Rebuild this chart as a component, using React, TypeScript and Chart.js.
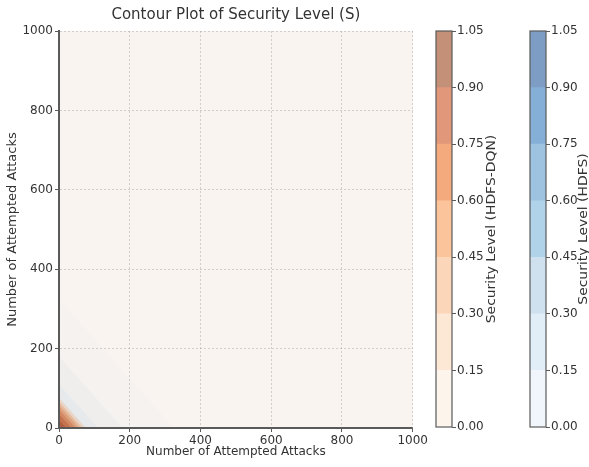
import React, { useEffect, useRef } from "react";
import { Chart, registerables } from "chart.js";

Chart.register(...registerables);

// Axis ticks shared by both attack axes
const AXIS_TICKS = [0, 200, 400, 600, 800, 1000];
// Contour levels of the security score
const LEVELS = [0, 0.15, 0.3, 0.45, 0.6, 0.75, 0.9, 1.05];
// Total attempts (x + y) at which each model's score falls to LEVELS[1..6]
const HDFS_BOUNDARIES = [325, 180, 110, 76, 50, 25];
const DQN_BOUNDARIES = [76, 66, 57, 47, 35, 20];
// Colour-bar fills for each band, lowest level first
const HDFS_COLORS = ["#f0f6fb", "#e1edf7", "#cfe1ef", "#b0d3e9", "#9dc3e1", "#86afd8", "#7e9dc4"];
const DQN_COLORS = ["#fdf4ec", "#fde8d6", "#fcd6b8", "#fcc49a", "#f5aa7e", "#e0977a", "#c49078"];
// HDFS-DQN bands as they appear laid over the HDFS surface
const DQN_OVERLAY = ["rgba(253,244,236,0.7)", "#e9d6c8", "#e6bc9e", "#dea27f", "#d38a64", "#c47250", "#b25d40"];

const TITLE = "Contour Plot of Security Level (S)";
const X_LABEL = "Number of Attempted Attacks";
const Y_LABEL = "Number of Attempted Attacks";
const DQN_LABEL = "Security Level (HDFS-DQN)";
const HDFS_LABEL = "Security Level (HDFS)";

const FAMILY = "'DejaVu Sans', sans-serif";
const TEXT = "#333333";
const EDGE = "#5a5a5a";

// Each band of a contour x + y < d is the triangle under the line from (0, d) to (d, 0)
function bandDatasets() {
  const full = 2 * AXIS_TICKS[AXIS_TICKS.length - 1];
  const layers: { d: number; color: string }[] = [];
  layers.push({ d: full, color: HDFS_COLORS[0] });
  HDFS_BOUNDARIES.forEach((d, i) => layers.push({ d, color: HDFS_COLORS[i + 1] }));
  layers.push({ d: full, color: DQN_OVERLAY[0] });
  DQN_BOUNDARIES.forEach((d, i) => layers.push({ d, color: DQN_OVERLAY[i + 1] }));
  return layers.map((l, i, arr) => ({
    data: [
      { x: 0, y: l.d },
      { x: l.d, y: 0 },
    ],
    fill: "origin",
    backgroundColor: l.color,
    borderWidth: 0,
    pointRadius: 0,
    tension: 0,
    order: arr.length - i,
  }));
}

function axisOptions(title: string, isX: boolean) {
  return {
    type: "linear",
    min: AXIS_TICKS[0],
    max: AXIS_TICKS[AXIS_TICKS.length - 1],
    afterBuildTicks: (s: any) => {
      s.ticks = AXIS_TICKS.map((v) => ({ value: v }));
    },
    afterFit: (s: any) => {
      if (isX) s.height = 39;
      else s.width = 59;
    },
    ticks: {
      font: { family: FAMILY, size: 12 },
      color: TEXT,
      padding: 2,
      maxRotation: 0,
      autoSkip: false,
      callback: (v: any) => String(v),
    },
    grid: {
      z: 1,
      color: "rgba(150,150,150,0.5)",
      lineWidth: 0.8,
      drawTicks: true,
      tickLength: 4,
      tickColor: EDGE,
      tickWidth: 1,
      tickBorderDash: [],
    },
    border: { z: 2, display: true, color: EDGE, width: 2, dash: [2, 2] },
    title: {
      display: true,
      text: title,
      font: { family: FAMILY, size: isX ? 12 : 13 },
      color: TEXT,
      padding: isX ? { top: 0, bottom: 8 } : { top: 5, bottom: 0 },
    },
  };
}

const colorbarDecor = {
  id: "colorbarDecor",
  afterDatasetsDraw(chart: any) {
    const { ctx, chartArea: a } = chart;
    ctx.save();
    ctx.strokeStyle = EDGE;
    ctx.lineWidth = 1.2;
    ctx.strokeRect(a.left, a.top, a.right - a.left, a.bottom - a.top);
    ctx.restore();
  },
  afterDraw(chart: any, _args: any, opts: any) {
    const { ctx, chartArea: a } = chart;
    ctx.save();
    ctx.translate(opts.x, (a.top + a.bottom) / 2);
    ctx.rotate(-Math.PI / 2);
    ctx.scale(opts.stretch, 1);
    ctx.font = `${opts.size}px ${FAMILY}`;
    ctx.fillStyle = TEXT;
    ctx.textAlign = "center";
    ctx.textBaseline = "middle";
    ctx.fillText(opts.text, 0, 0);
    ctx.restore();
  },
};

function colorbarConfig(colors: string[], label: string, width: number, labelX: number): any {
  return {
    type: "bar",
    data: {
      labels: [""],
      datasets: LEVELS.slice(1).map((v, i) => ({
        data: [v - LEVELS[i]],
        backgroundColor: colors[i],
        borderWidth: 0,
        barPercentage: 1,
        categoryPercentage: 1,
      })),
    },
    plugins: [colorbarDecor],
    options: {
      animation: false,
      responsive: false,
      maintainAspectRatio: false,
      layout: { padding: { left: 36, top: 31, bottom: 40, right: 0 } },
      plugins: {
        legend: { display: false },
        tooltip: { enabled: false },
        colorbarDecor: { text: label, x: labelX, size: 12, stretch: 1.16 },
      },
      scales: {
        x: { display: false, stacked: true },
        y: {
          stacked: true,
          position: "right",
          min: LEVELS[0],
          max: LEVELS[LEVELS.length - 1],
          afterBuildTicks: (s: any) => {
            s.ticks = LEVELS.map((v) => ({ value: v }));
          },
          afterFit: (s: any) => {
            s.width = width - 52;
          },
          ticks: {
            font: { family: FAMILY, size: 12 },
            color: TEXT,
            padding: 1,
            callback: (v: any) => Number(v).toFixed(2),
          },
          grid: { drawOnChartArea: false, drawTicks: true, tickLength: 4, tickColor: EDGE, tickWidth: 1 },
          border: { display: false },
        },
      },
    },
  };
}

export default function App() {
  const mainRef = useRef<HTMLCanvasElement>(null);
  const dqnRef = useRef<HTMLCanvasElement>(null);
  const hdfsRef = useRef<HTMLCanvasElement>(null);

  useEffect(() => {
    const main = new Chart(mainRef.current!, {
      type: "line",
      data: { datasets: bandDatasets() as any },
      options: {
        animation: false,
        responsive: false,
        maintainAspectRatio: false,
        layout: { padding: { left: 0, right: 17, top: 0, bottom: 0 } },
        plugins: {
          legend: { display: false },
          tooltip: { enabled: false },
          title: {
            display: true,
            text: TITLE,
            fullSize: false,
            font: { family: FAMILY, size: 15, weight: "normal" },
            color: TEXT,
            padding: { top: 6, bottom: 7 },
          },
        },
        scales: {
          x: axisOptions(X_LABEL, true) as any,
          y: axisOptions(Y_LABEL, false) as any,
        },
      },
    });
    const dqn = new Chart(dqnRef.current!, colorbarConfig(DQN_COLORS, DQN_LABEL, 100, 92));
    const hdfs = new Chart(hdfsRef.current!, colorbarConfig(HDFS_COLORS, HDFS_LABEL, 95, 90));
    return () => {
      main.destroy();
      dqn.destroy();
      hdfs.destroy();
    };
  }, []);

  return (
    <div style={{ position: "fixed", left: 0, top: 0, width: 589, height: 467, background: "#ffffff", overflow: "hidden" }}>
      <canvas ref={mainRef} width={430} height={467} style={{ position: "absolute", left: 0, top: 0 }} />
      <canvas ref={dqnRef} width={100} height={467} style={{ position: "absolute", left: 400, top: 0 }} />
      <canvas ref={hdfsRef} width={95} height={467} style={{ position: "absolute", left: 494, top: 0 }} />
    </div>
  );
}
